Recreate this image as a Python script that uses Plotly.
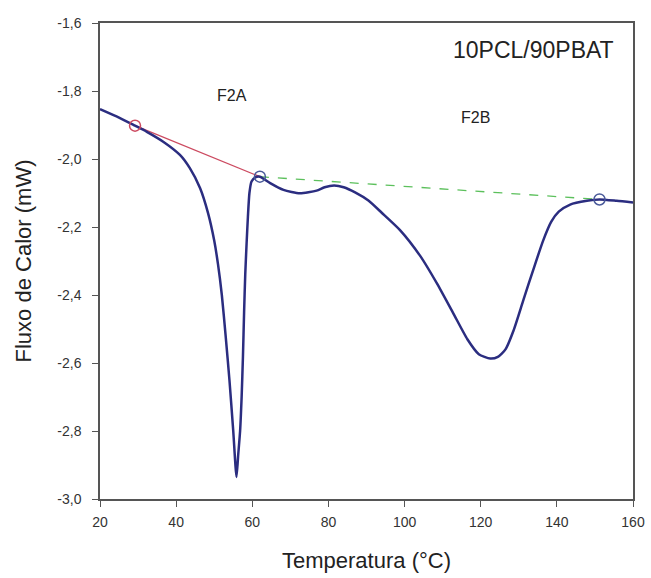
import plotly.graph_objects as go

# DSC curve (Temperatura °C vs Fluxo de Calor mW)
temp = [20, 25, 29.2, 32.3, 36.6, 41.0, 43.6, 46.3, 48.4, 50.0, 51.0, 52.0, 53.0, 54.0, 55.0,
        55.85, 56.3, 56.8, 57.2, 57.55, 57.85, 58.15, 58.5, 58.85, 59.25, 59.8, 60.8, 62.0,
        64.7, 68.2, 72.5, 76.9, 79.0, 81.5, 84.0, 87.0, 90.5, 94.0, 98.8, 104.1, 108.5, 112.8,
        116.5, 119.5, 122.5, 124.5, 126.5, 128.6, 131.2, 133.8, 136.4, 138.5, 140.5, 143.5,
        147.9, 151.2, 155.7, 160]
flux = [-1.853, -1.878, -1.902, -1.920, -1.949, -1.988, -2.027, -2.086, -2.160, -2.240, -2.310,
        -2.400, -2.520, -2.650, -2.800, -2.935, -2.870, -2.800, -2.700, -2.580, -2.450,
        -2.340, -2.250, -2.170, -2.100, -2.066, -2.054, -2.052, -2.071, -2.091, -2.101,
        -2.093, -2.083, -2.078, -2.083, -2.098, -2.122, -2.158, -2.209, -2.285, -2.366,
        -2.454, -2.530, -2.574, -2.587, -2.582, -2.560, -2.505, -2.415, -2.326, -2.240,
        -2.185, -2.155, -2.134, -2.123, -2.119, -2.123, -2.128]

# Baselines (integration limits)
baseA_x = [29.2, 62.0]
baseA_y = [-1.902, -2.052]
baseB_x = [62.0, 151.2]
baseB_y = [-2.052, -2.119]

x_ticks = [20, 40, 60, 80, 100, 120, 140, 160]
y_ticks = [-3.0, -2.8, -2.6, -2.4, -2.2, -2.0, -1.8, -1.6]
y_tick_labels = ["-3,0", "-2,8", "-2,6", "-2,4", "-2,2", "-2,0", "-1,8", "-1,6"]

font = "Liberation Sans, Arial, sans-serif"

fig = go.Figure()
fig.add_trace(go.Scatter(x=baseA_x, y=baseA_y, mode="lines",
                         line=dict(color="#cc4a60", width=1.3), showlegend=False))
fig.add_trace(go.Scatter(x=baseB_x, y=baseB_y, mode="lines",
                         line=dict(color="#5cc05c", width=1.3, dash="dash"), showlegend=False))
fig.add_trace(go.Scatter(x=temp, y=flux, mode="lines",
                         line=dict(color="#2b2d80", width=2.5, shape="spline", smoothing=0.6),
                         showlegend=False))
fig.add_trace(go.Scatter(x=[baseA_x[0]], y=[baseA_y[0]], mode="markers",
                         marker=dict(symbol="circle-open", size=11, color="#cc4a60", line=dict(width=1.5)),
                         showlegend=False))
fig.add_trace(go.Scatter(x=[baseB_x[0], baseB_x[1]], y=[baseB_y[0], baseB_y[1]], mode="markers",
                         marker=dict(symbol="circle-open", size=11, color="#4a5a9a", line=dict(width=1.5)),
                         showlegend=False))

fig.add_annotation(x=54.7, y=-1.812, text="F2A", showarrow=False,
                   font=dict(family=font, size=16, color="#222"))
fig.add_annotation(x=118.6, y=-1.879, text="F2B", showarrow=False,
                   font=dict(family=font, size=16, color="#222"))
fig.add_annotation(x=0.968, y=0.975, xref="paper", yref="paper", xanchor="right", yanchor="top",
                   text="10PCL/90PBAT", showarrow=False,
                   font=dict(family=font, size=23, color="#222"))

fig.update_layout(
    width=651, height=578,
    margin=dict(l=100, r=18, t=23, b=79),
    paper_bgcolor="white", plot_bgcolor="white",
    separators=",.",
    font=dict(family=font, size=14, color="#333"),
    xaxis=dict(range=[20, 160], tickvals=x_ticks, ticks="outside", ticklen=6, tickcolor="#555",
               showline=True, linecolor="#555", linewidth=1.5, mirror=True, showgrid=False,
               zeroline=False, ticklabelstandoff=3, automargin=False,
               title=dict(text="Temperatura (°C)", font=dict(size=22, color="#222"), standoff=24)),
    yaxis=dict(range=[-3.0, -1.6], tickvals=y_ticks, ticktext=y_tick_labels, ticks="outside", ticklen=6,
               tickcolor="#555", showline=True, linecolor="#555", linewidth=1.5, mirror=True,
               showgrid=False, zeroline=False, ticklabelstandoff=8, automargin=False,
               title=dict(text="Fluxo de Calor (mW)", font=dict(size=22, color="#222"), standoff=20)),
)

fig.write_html("out.html", config={"displayModeBar": False},
               post_script="document.body.style.margin='0';document.body.style.overflow='hidden';")
